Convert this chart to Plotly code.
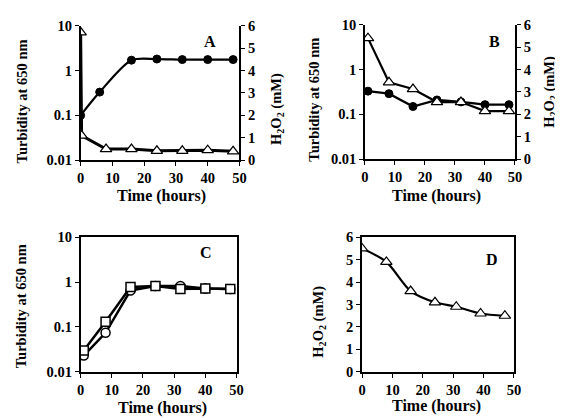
import plotly.graph_objects as go

# ---- data ----
a_time_turb = [0, 6, 16, 24, 32, 40, 48]
a_turb = [0.1, 0.33, 1.7, 1.8, 1.75, 1.75, 1.75]
a_time_h2o2 = [0, 0.3, 8, 16, 24, 32, 40, 48]
a_h2o2 = [5.7, 1.1, 0.5, 0.5, 0.42, 0.42, 0.45, 0.4]

b_time = [1, 8, 16, 24, 32, 40, 48]
b_turb = [0.33, 0.29, 0.15, 0.21, 0.19, 0.165, 0.165]
b_h2o2 = [5.4, 3.43, 3.13, 2.55, 2.55, 2.15, 2.15]

c_time = [1, 8, 16, 24, 32, 40, 48]
c_circle = [0.023, 0.074, 0.65, 0.82, 0.82, 0.72, 0.7]
c_square = [0.03, 0.13, 0.78, 0.82, 0.7, 0.72, 0.7]

d_time = [0, 8, 16, 24, 31, 39, 47]
d_h2o2 = [5.5, 4.9, 3.6, 3.1, 2.9, 2.6, 2.5]

log_tickvals = [0.01, 0.1, 1, 10]
log_ticktext = ["0.01", "0.1", "1", "10"]
x_ticks = [0, 10, 20, 30, 40, 50]
h_ticks = [0, 1, 2, 3, 4, 5, 6]

W, H = 563, 418
FONT = "Liberation Serif"
TICKF = dict(family=FONT, size=14.5, color="black", weight="bold")

def px(x):
    return x / W

def py(y):
    return 1 - y / H

def bold(lst):
    return ["<b>%s</b>" % v for v in lst]

fig = go.Figure()

circ = dict(symbol="circle", size=8, color="black", line=dict(color="black", width=1))
circ_open = dict(symbol="circle", size=9, color="white", line=dict(color="black", width=1.5))
tri = dict(symbol="triangle-up", size=10, color="white", line=dict(color="black", width=1.2))
sq = dict(symbol="square", size=9, color="white", line=dict(color="black", width=1.5))

# Panel A
fig.add_trace(go.Scatter(x=a_time_turb, y=a_turb, mode="lines+markers", xaxis="x", yaxis="y",
                         line=dict(color="black", width=2.2, shape="spline", smoothing=0.8), marker=circ))
fig.add_trace(go.Scatter(x=a_time_h2o2, y=a_h2o2, mode="lines+markers", xaxis="x", yaxis="y2",
                         line=dict(color="black", width=3), marker=tri))
# Panel B
fig.add_trace(go.Scatter(x=b_time, y=b_turb, mode="lines+markers", xaxis="x2", yaxis="y3",
                         line=dict(color="black", width=2.2), marker=circ))
fig.add_trace(go.Scatter(x=b_time, y=b_h2o2, mode="lines+markers", xaxis="x2", yaxis="y4",
                         line=dict(color="black", width=2.2), marker=tri))
# Panel C
fig.add_trace(go.Scatter(x=c_time, y=c_circle, mode="lines+markers", xaxis="x3", yaxis="y5",
                         line=dict(color="black", width=2.5), marker=circ_open))
fig.add_trace(go.Scatter(x=c_time, y=c_square, mode="lines+markers", xaxis="x3", yaxis="y5",
                         line=dict(color="black", width=2.5), marker=sq))
# Panel D
fig.add_trace(go.Scatter(x=d_time, y=d_h2o2, mode="lines+markers", xaxis="x4", yaxis="y6",
                         line=dict(color="black", width=2.2, shape="spline", smoothing=0.8), marker=tri))

def xaxis(domain, anchor, mirror=False):
    return dict(domain=domain, anchor=anchor, range=[0, 50], tickvals=x_ticks,
                ticktext=bold(x_ticks),
                showline=True, linecolor="black", linewidth=1.5, mirror=mirror,
                ticks="outside", ticklen=4, tickcolor="black", showgrid=False,
                zeroline=False, tickfont=TICKF)

def logy(domain, anchor, mirror=False):
    return dict(domain=domain, anchor=anchor, type="log", range=[-2, 1],
                tickvals=log_tickvals, ticktext=bold(log_ticktext),
                showline=True, linecolor="black", linewidth=1.5, mirror=mirror,
                ticks="outside", ticklen=4, tickcolor="black", showgrid=False,
                zeroline=False, tickfont=TICKF)

def liny(domain, anchor, side="left", overlaying=None, mirror=False):
    d = dict(domain=domain, anchor=anchor, range=[0, 6], tickvals=h_ticks,
             ticktext=bold(h_ticks), side=side,
             showline=True, linecolor="black", linewidth=1.5, mirror=mirror,
             ticks="outside", ticklen=4, tickcolor="black", showgrid=False,
             zeroline=False, tickfont=TICKF)
    if overlaying:
        d["overlaying"] = overlaying
    return d

dA_x = [px(70), px(232)]
dA_y = [py(150), py(10)]
dB_x = [px(360), px(513)]
dB_y = [py(149), py(9)]
dC_x = [px(70), px(229)]
dC_y = [py(370), py(230)]
dD_x = [px(357), px(512)]
dD_y = [py(370), py(230)]

VF = dict(family=FONT, size=14.5, color="black")
HF = dict(family=FONT, size=16, color="black")
h2o2 = "H<sub>2</sub>O<sub>2</sub> (mM)"

yaxis4 = liny(dB_y, "x2", side="right", overlaying="y3")
yaxis4["title"] = dict(text="<b>" + h2o2 + "</b>", font=VF, standoff=14)
yaxis4["automargin"] = False

fig.update_layout(
    width=W, height=H, margin=dict(l=0, r=0, t=0, b=0),
    paper_bgcolor="white", plot_bgcolor="white", showlegend=False,
    font=dict(family=FONT, color="black"),
    xaxis=xaxis(dA_x, "y"),
    yaxis=logy(dA_y, "x"),
    yaxis2=liny(dA_y, "x", side="right", overlaying="y"),
    xaxis2=xaxis(dB_x, "y3"),
    yaxis3=logy(dB_y, "x2"),
    yaxis4=yaxis4,
    xaxis3=xaxis(dC_x, "y5", mirror=True),
    yaxis5=logy(dC_y, "x3", mirror=True),
    xaxis4=xaxis(dD_x, "y6", mirror=True),
    yaxis6=liny(dD_y, "x4", mirror=True),
)

ann = []
def title(text, x, y, angle=0, font=VF):
    ann.append(dict(text=text, x=px(x), y=py(y), xref="paper", yref="paper",
                    showarrow=False, textangle=angle, font=font,
                    xanchor="center", yanchor="middle"))

# A
title("<b>Turbidity at 650 nm</b>", 10, 89, -90)
title("<b>" + h2o2 + "</b>", 271, 97, -90)
title("<b>Time (hours)</b>", 152, 187, font=HF)
title("<b>A</b>", 202, 26, font=HF)
# B
title("<b>Turbidity at 650 nm</b>", 308, 87, -90)
title("<b>Time (hours)</b>", 433, 187, font=HF)
title("<b>B</b>", 492, 26, font=HF)
# C
title("<b>Turbidity at 650 nm</b>", 10, 302, -90)
title("<b>Time (hours)</b>", 153, 408, font=HF)
title("<b>C</b>", 198, 246, font=HF)
# D
title("<b>" + h2o2 + "</b>", 313, 318, -90)
title("<b>Time (hours)</b>", 433, 406, font=HF)
title("<b>D</b>", 490, 253, font=HF)

fig.update_layout(annotations=ann)

fig.write_html("out.html")
